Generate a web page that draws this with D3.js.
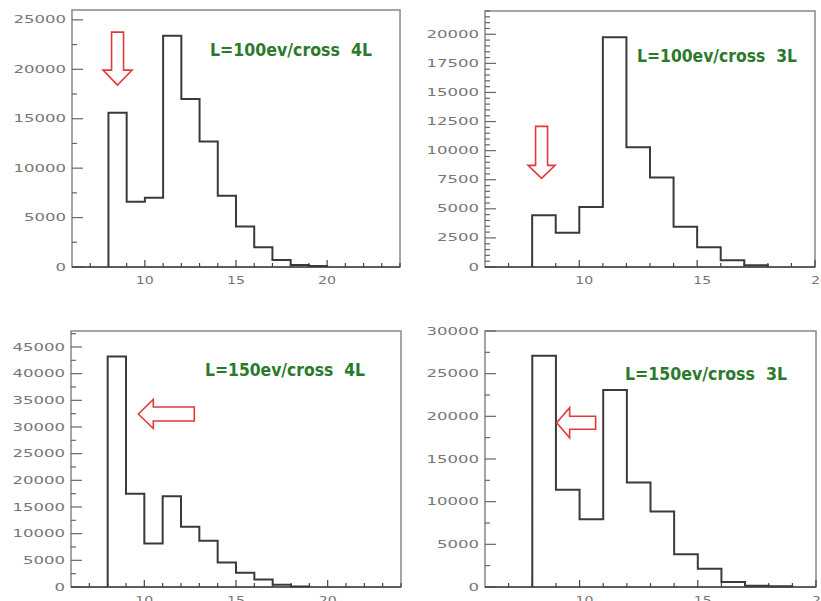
<!DOCTYPE html>
<html>
<head>
<meta charset="utf-8">
<script src="https://cdn.jsdelivr.net/npm/d3@7"></script>
<style>
  body { margin: 0; background: #fff; }
  svg { display: block; }
</style>
</head>
<body>
<div class="canvas"></div>
<script>
// bin counts, one bin per unit starting at 8
const binStart = 8;
const counts100_4L = [15600, 6600, 7000, 23400, 17000, 12700, 7200, 4100, 2000, 700, 200, 100];
const counts100_3L = [4450, 2950, 5150, 19750, 10300, 7700, 3450, 1700, 580, 150];
const counts150_4L = [43200, 17500, 8150, 17000, 11300, 8650, 4600, 2650, 1400, 400, 100];
const counts150_3L = [27100, 11400, 7950, 23100, 12250, 8850, 3850, 2150, 600, 150, 80];

const titles = ["L=100ev/cross  4L", "L=100ev/cross  3L", "L=150ev/cross  4L", "L=150ev/cross  3L"];

const xTicksLong = [10, 15, 20];
const yTicks26k = [0, 5000, 10000, 15000, 20000, 25000];
const yTicks22k = [0, 2500, 5000, 7500, 10000, 12500, 15000, 17500, 20000];
const yTicks48k = [0, 5000, 10000, 15000, 20000, 25000, 30000, 35000, 40000, 45000];
const yTicks30k = [0, 5000, 10000, 15000, 20000, 25000, 30000];

// panel layout
const panels = [
  {counts: counts100_4L, title: titles[0], xd: [6, 24], yd: [0, 26000], yTicks: yTicks26k, minorY: 2500,
   xr: [72, 400], yr: [267, 10], lblShift: 0, tdx: 138, tdy: 46, tw: 162,
   arrow: {x: 8.5, y: 18400, dir: "down", len: 53, head: 15, shaft: 12, hw: 29}},
  {counts: counts100_3L, title: titles[1], xd: [6, 20], yd: [0, 22000], yTicks: yTicks22k, minorY: 500,
   xr: [485, 815], yr: [267, 11], lblShift: 5, tdx: 152, tdy: 51, tw: 160,
   arrow: {x: 8.4, y: 7620, dir: "down", len: 52, head: 13, shaft: 12, hw: 27}},
  {counts: counts150_4L, title: titles[2], xd: [6, 24], yd: [0, 48000], yTicks: yTicks48k, minorY: 2500,
   xr: [71, 401], yr: [587, 331], lblShift: 0, tdx: 134, tdy: 45, tw: 160,
   arrow: {x: 9.67, y: 32440, dir: "left", len: 56, head: 15, shaft: 14, hw: 29}},
  {counts: counts150_3L, title: titles[3], xd: [6, 20], yd: [0, 30000], yTicks: yTicks30k, minorY: 2500,
   xr: [485, 816], yr: [587, 331], lblShift: 5, tdx: 140, tdy: 49, tw: 162,
   arrow: {x: 9.03, y: 19250, dir: "left", len: 39, head: 13, shaft: 13, hw: 30}}
];

const svg = d3.select(".canvas")
  .append("svg")
    .attr("width", 821)
    .attr("height", 601);

panels.forEach(p => {
  const x = d3.scaleLinear().domain(p.xd).range(p.xr);
  const y = d3.scaleLinear().domain(p.yd).range(p.yr);
  const g = svg.append("g");

  // frame
  g.append("rect")
    .attr("x", p.xr[0]).attr("y", p.yr[1])
    .attr("width", p.xr[1] - p.xr[0]).attr("height", p.yr[0] - p.yr[1])
    .attr("fill", "none").attr("stroke", "#888").attr("stroke-width", 1.5);

  // y ticks, inside the frame
  const yMinor = d3.range(0, p.yd[1] + 1, p.minorY);
  g.selectAll(".ymin").data(yMinor).join("line")
    .attr("x1", p.xr[0]).attr("x2", d => p.yTicks.includes(d) ? p.xr[0] + 11 : p.xr[0] + 5)
    .attr("y1", d => y(d)).attr("y2", d => y(d))
    .attr("stroke", "#666").attr("stroke-width", 1.2);

  g.selectAll(".ylab").data(p.yTicks).join("text")
    .attr("x", p.xr[0] - 6).attr("y", d => y(d))
    .attr("dy", "0.35em")
    .attr("text-anchor", "end")
    .attr("textLength", d => String(d).length * 10.5)
    .attr("lengthAdjust", "spacingAndGlyphs")
    .style("font-family", "DejaVu Sans").style("font-size", "10px")
    .style("fill", "#777")
    .text(d => d);

  // x ticks
  const xMinor = d3.range(Math.ceil(p.xd[0]) + 1, p.xd[1] + 1);
  g.selectAll(".xmin").data(xMinor).join("line")
    .attr("x1", d => x(d)).attr("x2", d => x(d))
    .attr("y1", p.yr[0]).attr("y2", d => xTicksLong.includes(d) ? p.yr[0] - 7 : p.yr[0] - 4)
    .attr("stroke", "#444").attr("stroke-width", 1.2);

  g.selectAll(".xlab").data(xTicksLong).join("text")
    .attr("x", d => x(d) + p.lblShift).attr("y", p.yr[0] + 17)
    .attr("text-anchor", "middle")
    .attr("textLength", 18)
    .attr("lengthAdjust", "spacingAndGlyphs")
    .style("font-family", "DejaVu Sans").style("font-size", "10px")
    .style("fill", "#777")
    .text(d => d);

  // axis line
  g.append("line")
    .attr("x1", p.xr[0]).attr("x2", p.xr[1])
    .attr("y1", p.yr[0]).attr("y2", p.yr[0])
    .attr("stroke", "#444").attr("stroke-width", 1.5);

  // histogram outline
  const pts = [{x: binStart, v: 0}];
  p.counts.forEach((c, i) => pts.push({x: binStart + i, v: c}));
  pts.push({x: binStart + p.counts.length, v: 0});
  const line = d3.line().x(d => x(d.x)).y(d => y(d.v)).curve(d3.curveStepAfter);
  g.append("path")
    .attr("d", line(pts))
    .attr("fill", "none")
    .attr("stroke", "#3a3a3a")
    .attr("stroke-width", 2);

  // title
  g.append("text")
    .attr("x", p.xr[0] + p.tdx).attr("y", p.yr[1] + p.tdy)
    .attr("textLength", p.tw)
    .attr("lengthAdjust", "spacingAndGlyphs")
    .style("white-space", "pre")
    .style("font-family", "'Liberation Sans Narrow', 'DejaVu Sans Condensed', sans-serif")
    .style("font-weight", "bold").style("font-size", "17px")
    .style("fill", "#2b7a2b")
    .text(p.title);

  // red hollow arrow
  const a = p.arrow;
  const tx = x(a.x), ty = y(a.y);
  const s = a.shaft / 2, h = a.hw / 2;
  let poly;
  if (a.dir === "down") {
    poly = [[tx, ty], [tx - h, ty - a.head], [tx - s, ty - a.head], [tx - s, ty - a.len],
            [tx + s, ty - a.len], [tx + s, ty - a.head], [tx + h, ty - a.head]];
  } else {
    poly = [[tx, ty], [tx + a.head, ty - h], [tx + a.head, ty - s], [tx + a.len, ty - s],
            [tx + a.len, ty + s], [tx + a.head, ty + s], [tx + a.head, ty + h]];
  }
  g.append("polygon")
    .attr("points", poly.map(d => d.join(",")).join(" "))
    .attr("fill", "#fff")
    .attr("stroke", "#e23a3a")
    .attr("stroke-width", 1.6);
});
</script>
</body>
</html>
